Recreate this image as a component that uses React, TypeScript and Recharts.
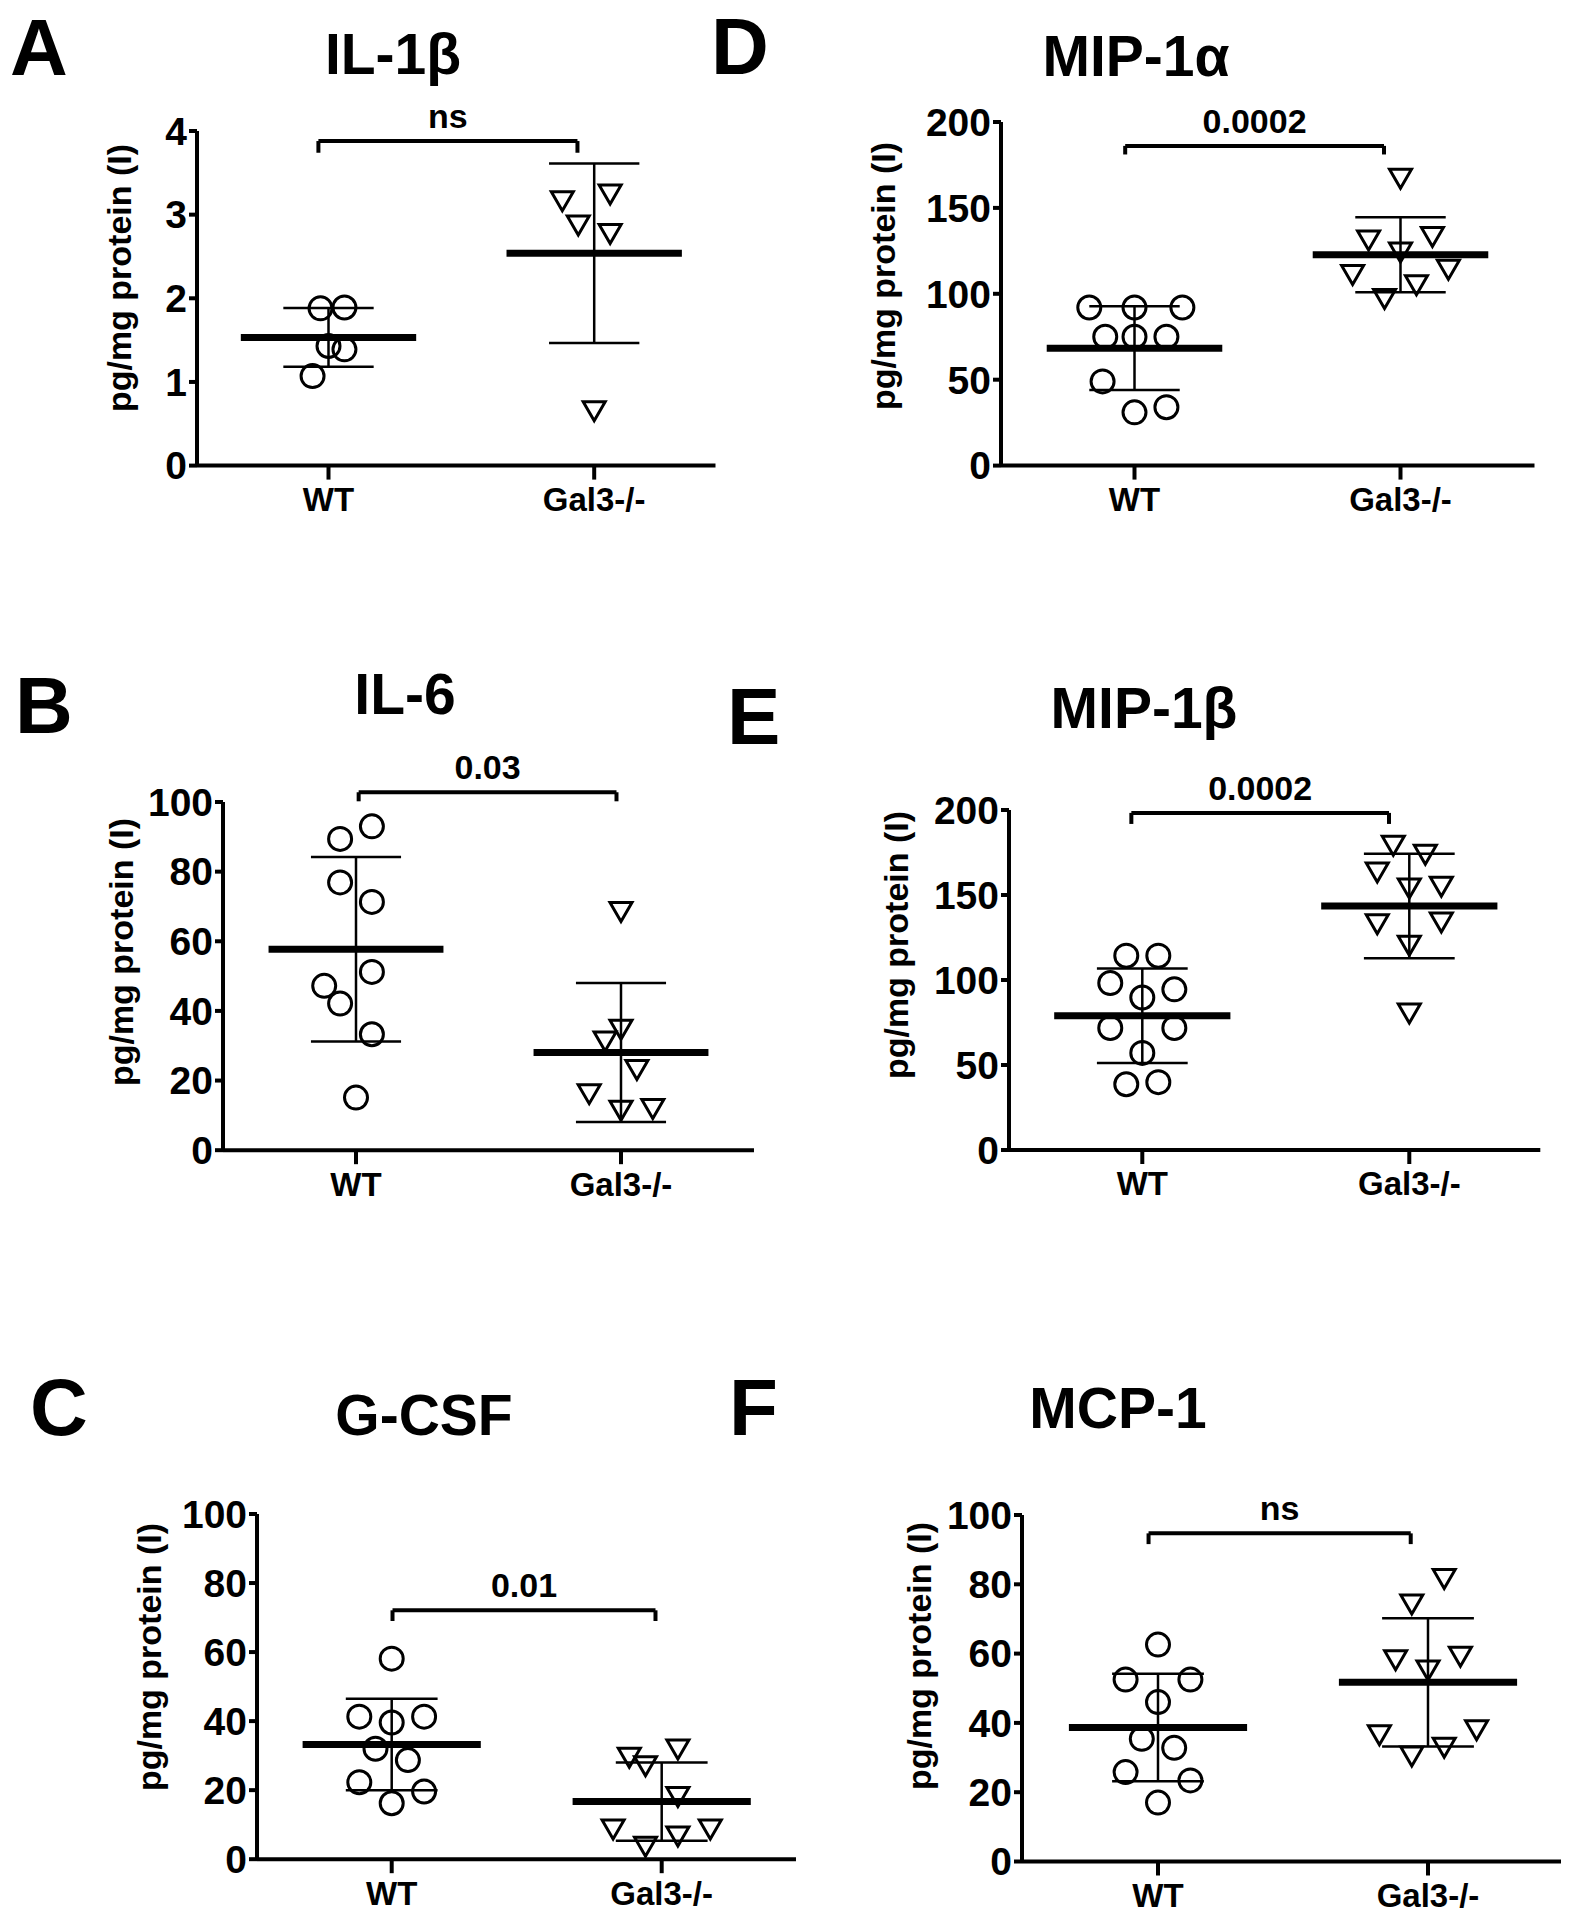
import React from "react";
import { ScatterChart, Scatter, XAxis, YAxis, ReferenceLine, ReferenceDot } from "recharts";

const FONT = "'Liberation Sans', Arial, Helvetica, sans-serif";
const GROUPS = ["WT", "Gal3-/-"];

// A: IL-1β
const il1bWT = [1.88, 1.89, 1.43, 1.39, 1.07];
const il1bWTJitter = [-0.03, 0.06, 0, 0.06, -0.06];
const il1bKO = [3.16, 3.24, 2.87, 2.77, 0.65];
const il1bKOJitter = [-0.12, 0.06, -0.06, 0.06, 0];
const il1bTicks = [0, 1, 2, 3, 4];

// B: IL-6
const il6WT = [89.4, 93.0, 76.9, 71.3, 51.2, 47.2, 42.1, 33.3, 15.1];
const il6WTJitter = [-0.06, 0.06, -0.06, 0.06, 0.06, -0.12, -0.06, 0.06, 0];
const il6KO = [68.4, 34.6, 31.2, 23.0, 16.1, 11.3, 11.8];
const il6KOJitter = [0, 0, -0.06, 0.06, -0.12, 0, 0.12];
const pct100Ticks = [0, 20, 40, 60, 80, 100];

// C: G-CSF
const gcsfWT = [58.1, 41.3, 41.3, 39.6, 32.0, 28.7, 22.3, 19.6, 16.2];
const gcsfWTJitter = [0, -0.12, 0.12, 0, -0.06, 0.06, -0.12, 0.12, 0];
const gcsfKO = [31.8, 29.4, 26.9, 18.0, 8.6, 6.6, 8.6, 3.6];
const gcsfKOJitter = [0.06, -0.12, -0.06, 0.06, -0.18, 0.06, 0.18, -0.06];

// D: MIP-1α
const mip1aWT = [92, 92, 92, 75, 75, 75, 49, 31, 34];
const mip1aWTJitter = [-0.17, 0, 0.18, -0.11, 0, 0.12, -0.12, 0, 0.12];
const mip1aKO = [167, 131, 133, 124, 111, 114, 105, 97];
const mip1aKOJitter = [0, -0.12, 0.12, 0, -0.18, 0.18, 0.06, -0.06];
const ticks200 = [0, 50, 100, 150, 200];

// E: MIP-1β
const mip1bWT = [114.3, 114.3, 98.2, 94.5, 89.7, 71.8, 71.8, 57.1, 38.7, 39.9];
const mip1bWTJitter = [-0.06, 0.06, -0.12, 0.12, 0, -0.12, 0.12, 0, -0.06, 0.06];
const mip1bKO = [179, 173.7, 163.2, 153.8, 154.8, 132.8, 133.8, 120.2, 80.3];
const mip1bKOJitter = [-0.06, 0.06, -0.12, 0, 0.12, -0.12, 0.12, 0, 0];

// F: MCP-1
const mcp1WT = [62.6, 52.5, 52.5, 46.0, 35.4, 32.8, 25.8, 23.4, 17.0];
const mcp1WTJitter = [0, -0.12, 0.12, 0, -0.06, 0.06, -0.12, 0.12, 0];
const mcp1KO = [81.5, 74.2, 58.1, 59.1, 55.1, 36.4, 37.9, 30.3, 32.8];
const mcp1KOJitter = [0.06, -0.06, -0.12, 0.12, 0, -0.18, 0.18, -0.06, 0.06];

const Y_W = 120;
const X_H = 70;
const M_T = 60;
const M_R = 10;

function mean(a: number[]) {
  return a.reduce((s, v) => s + v, 0) / a.length;
}
function sd(a: number[]) {
  const m = mean(a);
  return Math.sqrt(a.reduce((s, v) => s + (v - m) * (v - m), 0) / (a.length - 1));
}

const OpenCircle = (props: any) => (
  <circle cx={props.cx} cy={props.cy} r={11.5} fill="none" stroke="#000" strokeWidth={3} />
);
const OpenTriangle = (props: any) => {
  const { cx, cy } = props;
  return (
    <polygon
      points={`${cx - 11},${cy - 9.5} ${cx + 11},${cy - 9.5} ${cx},${cy + 9.5}`}
      fill="none"
      stroke="#000"
      strokeWidth={3}
    />
  );
};

type PanelDef = {
  letter: string;
  title: string;
  wt: number[];
  wtJ: number[];
  ko: number[];
  koJ: number[];
  ticks: number[];
  pLabel: string;
  bracketY: number;
  bracketDrop: number;
  bracketX: [number, number];
  // layout (page px)
  x0: number;
  x1: number;
  y0: number;
  y1: number;
  pw: number;
  pg: number;
  titleX: number;
  titleY: number;
  letterX: number;
  letterY: number;
  labelX: number;
  labelY: number;
};

const panels: PanelDef[] = [
  {
    letter: "A", title: "IL-1β", wt: il1bWT, wtJ: il1bWTJitter, ko: il1bKO, koJ: il1bKOJitter,
    ticks: il1bTicks, pLabel: "ns", bracketY: 3.88, bracketDrop: 0.14, bracketX: [0.962, 1.937],
    x0: 196.5, x1: 715, y0: 131, y1: 465.6, pw: 328, pg: 593.7,
    titleX: 393, titleY: 74, letterX: 10, letterY: 75, labelX: 119, labelY: 278,
  },
  {
    letter: "D", title: "MIP-1α", wt: mip1aWT, wtJ: mip1aWTJitter, ko: mip1aKO, koJ: mip1aKOJitter,
    ticks: ticks200, pLabel: "0.0002", bracketY: 186.1, bracketDrop: 5, bracketX: [0.965, 1.938],
    x0: 1000.5, x1: 1534, y0: 122, y1: 465.6, pw: 1134, pg: 1400,
    titleX: 1136, titleY: 76, letterX: 711, letterY: 74, labelX: 883, labelY: 276,
  },
  {
    letter: "B", title: "IL-6", wt: il6WT, wtJ: il6WTJitter, ko: il6KO, koJ: il6KOJitter,
    ticks: pct100Ticks, pLabel: "0.03", bracketY: 102.8, bracketDrop: 2.6, bracketX: [1.01, 1.983],
    x0: 223, x1: 754, y0: 801.8, y1: 1150, pw: 356, pg: 621,
    titleX: 405, titleY: 714, letterX: 15, letterY: 733, labelX: 121, labelY: 952,
  },
  {
    letter: "E", title: "MIP-1β", wt: mip1bWT, wtJ: mip1bWTJitter, ko: mip1bKO, koJ: mip1bKOJitter,
    ticks: ticks200, pLabel: "0.0002", bracketY: 198.3, bracketDrop: 6.5, bracketX: [0.959, 1.924],
    x0: 1008.7, x1: 1540, y0: 810, y1: 1150, pw: 1142, pg: 1409,
    titleX: 1144, titleY: 728, letterX: 727, letterY: 744, labelX: 896, labelY: 945,
  },
  {
    letter: "C", title: "G-CSF", wt: gcsfWT, wtJ: gcsfWTJitter, ko: gcsfKO, koJ: gcsfKOJitter,
    ticks: pct100Ticks, pLabel: "0.01", bracketY: 72.1, bracketDrop: 3.1, bracketX: [1.003, 1.977],
    x0: 257, x1: 796, y0: 1513.8, y1: 1859, pw: 391.7, pg: 661.7,
    titleX: 424, titleY: 1435, letterX: 30, letterY: 1435, labelX: 149, labelY: 1657,
  },
  {
    letter: "F", title: "MCP-1", wt: mcp1WT, wtJ: mcp1WTJitter, ko: mcp1KO, koJ: mcp1KOJitter,
    ticks: pct100Ticks, pLabel: "ns", bracketY: 94.7, bracketDrop: 3.1, bracketX: [0.965, 1.936],
    x0: 1022, x1: 1561, y0: 1514.5, y1: 1861, pw: 1158, pg: 1428,
    titleX: 1118, titleY: 1428, letterX: 729, letterY: 1435, labelX: 919, labelY: 1656,
  },
];

const black = { stroke: "#000", strokeWidth: 4 };

function GroupBars({ cx, values }: { cx: number; values: number[] }) {
  const m = mean(values);
  const s = sd(values);
  return (
    <>
      <ReferenceLine segment={[{ x: cx, y: m - s }, { x: cx, y: m + s }]} stroke="#000" strokeWidth={2.5} ifOverflow="visible" />
      <ReferenceLine segment={[{ x: cx - 0.17, y: m + s }, { x: cx + 0.17, y: m + s }]} stroke="#000" strokeWidth={2.5} ifOverflow="visible" />
      <ReferenceLine segment={[{ x: cx - 0.17, y: m - s }, { x: cx + 0.17, y: m - s }]} stroke="#000" strokeWidth={2.5} ifOverflow="visible" />
      <ReferenceLine segment={[{ x: cx - 0.33, y: m }, { x: cx + 0.33, y: m }]} stroke="#000" strokeWidth={7} ifOverflow="visible" />
    </>
  );
}

function Panel({ p }: { p: PanelDef }) {
  const unit = p.pg - p.pw;
  const lo = 1 - (p.pw - p.x0) / unit;
  const hi = 2 + (p.x1 - p.pg) / unit;
  const width = Y_W + (p.x1 - p.x0) + M_R;
  const height = M_T + (p.y1 - p.y0) + X_H;
  const wtData = p.wt.map((v, i) => ({ x: 1 + p.wtJ[i], y: v }));
  const koData = p.ko.map((v, i) => ({ x: 2 + p.koJ[i], y: v }));
  const [bx1, bx2] = p.bracketX;
  const yMax = p.ticks[p.ticks.length - 1];

  return (
    <div style={{ position: "absolute", left: p.x0 - Y_W, top: p.y0 - M_T }}>
      <ScatterChart width={width} height={height} margin={{ top: M_T, right: M_R, bottom: 0, left: 0 }}>
        <XAxis
          type="number"
          dataKey="x"
          domain={[lo, hi]}
          ticks={[1, 2]}
          tickFormatter={(v: number) => GROUPS[v - 1]}
          allowDataOverflow
          height={X_H}
          axisLine={black}
          tickLine={black}
          tickSize={14}
          tickMargin={8}
          tick={{ fill: "#000", fontSize: 33, fontWeight: "bold", fontFamily: FONT }}
        />
        <YAxis
          type="number"
          dataKey="y"
          domain={[0, yMax]}
          ticks={p.ticks}
          interval={0}
          allowDataOverflow
          width={Y_W}
          axisLine={black}
          tickLine={black}
          tickSize={8}
          tickMargin={2}
          tick={{ fill: "#000", fontSize: 39, fontWeight: "bold", fontFamily: FONT }}
        />
        <Scatter data={wtData} shape={OpenCircle} isAnimationActive={false} />
        <Scatter data={koData} shape={OpenTriangle} isAnimationActive={false} />
        <GroupBars cx={1} values={p.wt} />
        <GroupBars cx={2} values={p.ko} />
        {/* significance bracket */}
        <ReferenceLine segment={[{ x: bx1, y: p.bracketY }, { x: bx2, y: p.bracketY }]} stroke="#000" strokeWidth={4} ifOverflow="visible" />
        <ReferenceLine segment={[{ x: bx1, y: p.bracketY }, { x: bx1, y: p.bracketY - p.bracketDrop }]} stroke="#000" strokeWidth={4} ifOverflow="visible" />
        <ReferenceLine segment={[{ x: bx2, y: p.bracketY }, { x: bx2, y: p.bracketY - p.bracketDrop }]} stroke="#000" strokeWidth={4} ifOverflow="visible" />
        <ReferenceDot
          x={(bx1 + bx2) / 2}
          y={p.bracketY}
          r={0}
          fill="none"
          stroke="none"
          ifOverflow="visible"
          label={{ value: p.pLabel, position: "top", offset: 13, fill: "#000", fontSize: 34, fontWeight: "bold", fontFamily: FONT }}
        />
      </ScatterChart>
    </div>
  );
}

export default function App() {
  return (
    <div style={{ position: "absolute", left: 0, top: 0, width: 1574, height: 1920, background: "#fff" }}>
      {panels.map((p) => (
        <Panel key={p.letter} p={p} />
      ))}
      <svg
        width={1574}
        height={1920}
        style={{ position: "absolute", left: 0, top: 0, pointerEvents: "none" }}
        fontFamily={FONT}
        fontWeight="bold"
      >
        {panels.map((p) => (
          <g key={p.letter}>
            <text x={p.letterX} y={p.letterY} fontSize={80}>{p.letter}</text>
            <text x={p.titleX} y={p.titleY} fontSize={57} textAnchor="middle">{p.title}</text>
            <text
              transform={`translate(${p.labelX},${p.labelY}) rotate(-90)`}
              fontSize={34}
              textAnchor="middle"
              dominantBaseline="central"
            >
              pg/mg protein (I)
            </text>
          </g>
        ))}
      </svg>
    </div>
  );
}
